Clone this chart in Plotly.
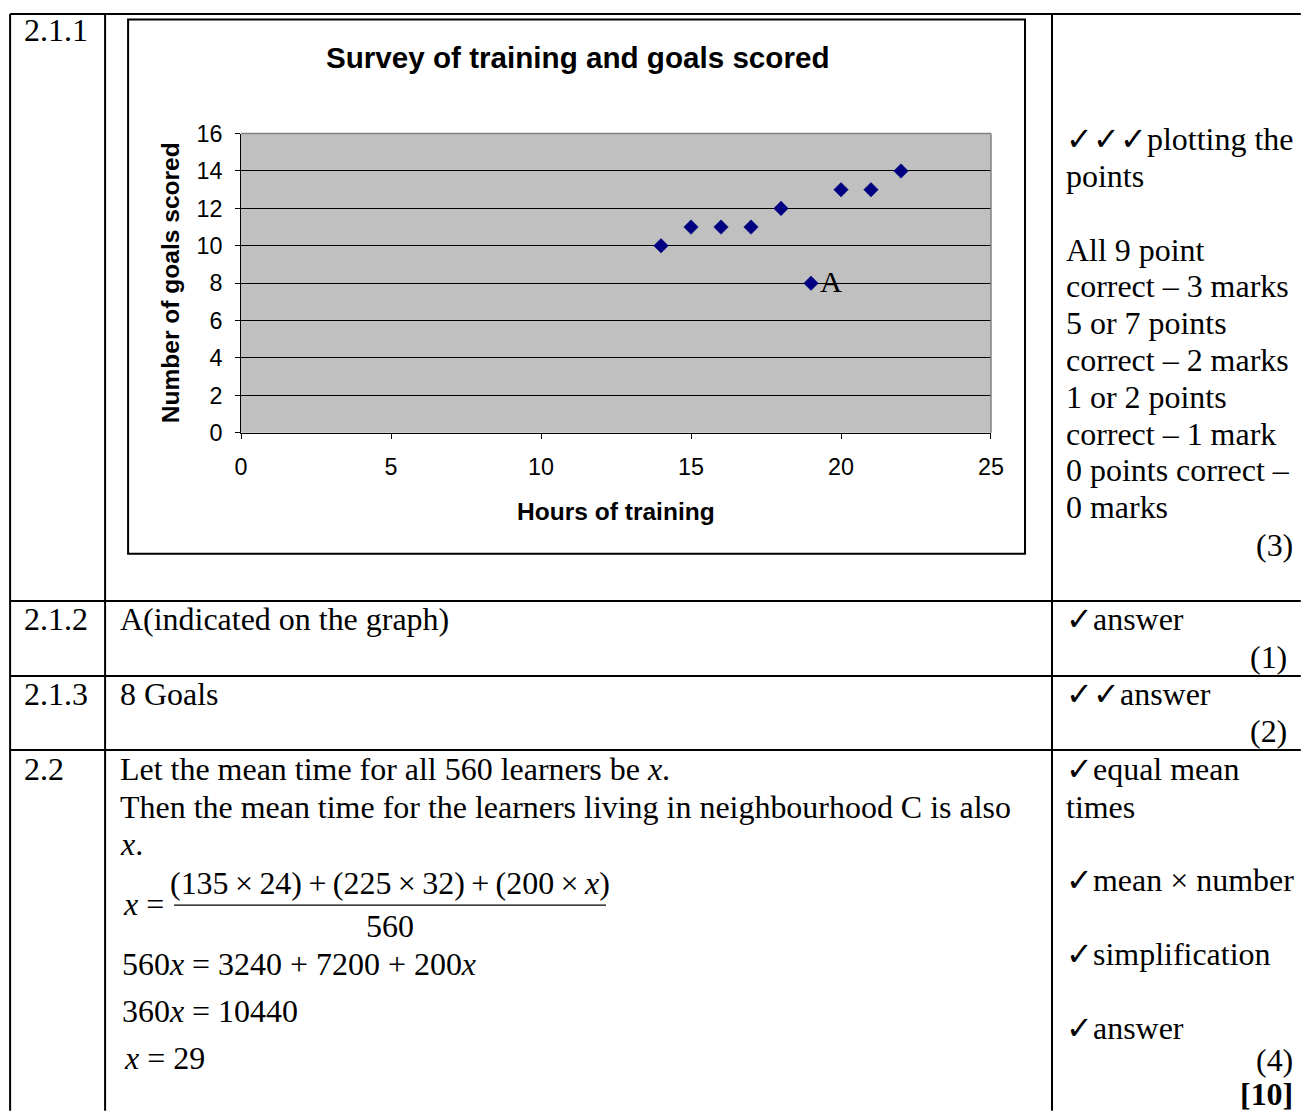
import plotly.graph_objects as go

W, H = 1301, 1113

# ---------------- data ----------------
hours = [14, 15, 16, 17, 18, 19, 20, 21, 22]
goals = [10, 11, 11, 11, 12, 8, 13, 13, 14]
outlier_index = 5
outlier_label = "A"
x_ticks = [0, 5, 10, 15, 20, 25]
y_ticks = [0, 2, 4, 6, 8, 10, 12, 14, 16]

chart_title = "Survey of training and goals scored"
x_title = "Hours of training"
y_title = "Number of goals scored"

question_numbers = ["2.1.1", "2.1.2", "2.1.3", "2.2"]
answers_212 = ["A(indicated on the graph)"]
answers_213 = ["8 Goals"]
answers_22 = [
    "Let the mean time for all 560 learners be <i>x</i>.",
    "Then the mean time for the learners living in neighbourhood C is also",
    "<i>x</i>.",
]
TS = "\u2009"
fraction_num = ("(135" + TS + "×" + TS + "24)" + TS + "+" + TS + "(225" + TS + "×" + TS + "32)"
                + TS + "+" + TS + "(200" + TS + "×" + TS + "<i>x</i>)")
fraction_den = "560"
equations = [
    "560<i>x</i> = 3240 + 7200 + 200<i>x</i>",
    "360<i>x</i> = 10440",
    "<i>x</i> = 29",
]
marks_211 = ["✓✓✓plotting the", "points", "", "All 9 point", "correct – 3 marks",
             "5 or 7 points", "correct – 2 marks", "1 or 2 points",
             "correct – 1 mark", "0 points correct –", "0 marks"]
marks_212 = ["✓answer"]
marks_213 = ["✓✓answer"]
marks_22 = ["✓equal mean", "times", "", "✓mean × number", "", "✓simplification", "", "✓answer"]
totals = ["(3)", "(1)", "(2)", "(4)", "<b>[10]</b>"]

# ---------------- helpers: target picture pixel -> paper fraction ----------------
SX, OX = 0.9855, 5.9
SY, OY = 0.976, 12.5
K = 1 / SX  # size factor


def px(x):
    return ((x - OX) / SX) / W


def py(y):
    return 1 - ((y - OY) / SY) / H


SERIF = "Liberation Serif, Times New Roman, DejaVu Serif, serif"
SANS = "Liberation Sans, Arial, sans-serif"
TFS = 31.5 * K

fig = go.Figure()
fig.add_trace(go.Scatter(
    x=hours, y=goals, mode="markers",
    marker=dict(symbol="diamond", size=11 * K, color="#000080",
                line=dict(color="#000080", width=0.5)),
    showlegend=False, hoverinfo="x+y",
))

annotations = []
shapes = []


def text(x, y, s, size=TFS, anchor="left", family=SERIF, color="black"):
    annotations.append(dict(
        x=px(x), y=py(y), xref="paper", yref="paper", text=s, showarrow=False,
        xanchor=anchor, yanchor="middle",
        font=dict(family=family, size=size, color=color),
    ))


def line(x0, y0, x1, y1, w=2):
    shapes.append(dict(type="line", xref="paper", yref="paper",
                       x0=x0, y0=y0, x1=x1, y1=y1,
                       line=dict(color="black", width=w)))


# ---------------- table grid ----------------
top = 1 - 1.0 / H
line(px(10), top, 1.01, top)
line(px(10), top, px(10), -0.01)
line(px(105), top, px(105), -0.01)
line(px(1052), top, px(1052), -0.01)
for yy in [600, 675, 749]:
    line(px(10), py(yy), 1.01, py(yy))

# chart outer border
shapes.append(dict(type="rect", xref="paper", yref="paper",
                   x0=px(128), x1=px(1025), y0=py(553), y1=py(19),
                   line=dict(color="black", width=2)))
# gray top/right edges of plot area
shapes.append(dict(type="line", xref="x domain", yref="y domain", x0=1, x1=1, y0=0, y1=1,
                   line=dict(color="#808080", width=1.5)))
shapes.append(dict(type="line", xref="x domain", yref="y domain", x0=0, x1=1, y0=1, y1=1,
                   line=dict(color="#808080", width=1.5)))

# ---------------- chart texts ----------------
text(577, 57, "<b>%s</b>" % chart_title, size=29.2 * K, anchor="center", family=SANS)
annotations.append(dict(x=0.5, xref="x domain", y=py(511), yref="paper",
                        text="<b>%s</b>" % x_title, showarrow=False,
                        xanchor="center", yanchor="middle",
                        font=dict(family=SANS, size=24.2 * K, color="black")))
annotations.append(dict(x=px(170), xref="paper", y=0.5, yref="y domain",
                        text="<b>%s</b>" % y_title, showarrow=False, textangle=-90,
                        xanchor="center", yanchor="middle",
                        font=dict(family=SANS, size=24.2 * K, color="black")))
annotations.append(dict(x=hours[outlier_index], y=goals[outlier_index], xref="x", yref="y",
                        text=outlier_label, showarrow=False, xanchor="left", yanchor="middle",
                        xshift=7, yshift=1,
                        font=dict(family=SERIF, size=30 * K, color="black")))

# ---------------- left column ----------------
for q, yy in zip(question_numbers, [30, 619, 694, 769]):
    text(22, yy, q)

# ---------------- middle column ----------------
text(118, 619, answers_212[0])
text(118, 694, answers_213[0])
for s, yy in zip(answers_22, [769, 806, 843]):
    text(118, yy, s)
text(121, 903, "<i>x</i> =")
text(390, 882, fraction_num, anchor="center")
shapes.append(dict(type="line", xref="paper", yref="paper",
                   x0=px(174), y0=py(904), x1=px(606), y1=py(904),
                   line=dict(color="black", width=1.2)))
text(390, 925, fraction_den, anchor="center")
for s, (xx, yy) in zip(equations, [(120, 963), (120, 1010), (122, 1057)]):
    text(xx, yy, s)

# ---------------- right column ----------------
y0 = 139
step = 36.8
for i, s in enumerate(marks_211):
    if s:
        text(1064, y0 + i * step, s)
text(1064, 619, marks_212[0])
text(1064, 694, marks_213[0])
for s, yy in zip(marks_22, [769, 806, 842, 879, 916, 953, 990, 1027]):
    if s:
        text(1064, yy, s)
for s, (xx, yy) in zip(totals, [(1295, 545), (1289, 657), (1289, 731), (1295, 1059), (1295, 1093)]):
    text(xx, yy, s, anchor="right")

fig.update_layout(
    width=W, height=H,
    margin=dict(l=0, r=0, t=0, b=0),
    paper_bgcolor="white",
    plot_bgcolor="#C0C0C0",
    showlegend=False,
    annotations=annotations,
    shapes=shapes,
    xaxis=dict(
        domain=[px(241), px(991)], range=[0, 25], tickvals=x_ticks,
        showgrid=False, zeroline=False, showline=True, linecolor="black", linewidth=1,
        ticks="outside", ticklen=5, tickcolor="black", tickwidth=1,
        ticklabelstandoff=8,
        tickfont=dict(family=SANS, size=23 * K, color="black"),
        fixedrange=True,
    ),
    yaxis=dict(
        domain=[py(432), py(133)], range=[0, 16], tickvals=y_ticks,
        showgrid=True, gridcolor="black", gridwidth=1, zeroline=False,
        showline=True, linecolor="black", linewidth=1,
        ticks="outside", ticklen=5, tickcolor="black", tickwidth=1,
        ticklabelstandoff=8,
        tickfont=dict(family=SANS, size=23 * K, color="black"),
        fixedrange=True,
    ),
)

fig.write_html("out.html", config={"displayModeBar": False},
               post_script="document.body.style.margin='0';document.body.style.overflow='hidden';")
